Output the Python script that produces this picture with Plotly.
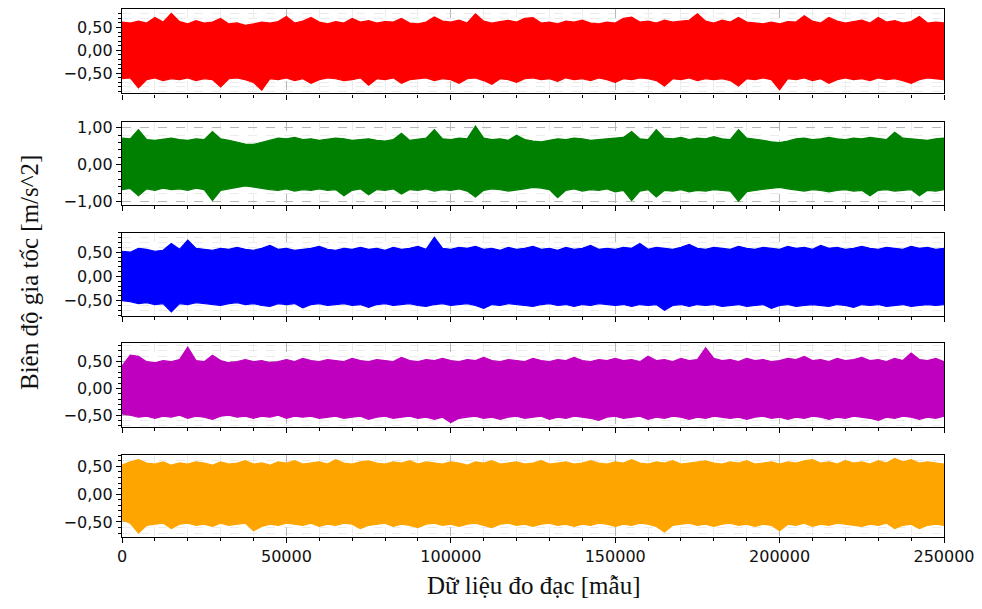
import plotly.graph_objects as go

# Sample index of each envelope reading (every 2500 samples, 0 .. 250000)
sample_index = [i * 2500 for i in range(101)]

# Upper / lower envelope of each acceleration channel [m/s^2]
red_upper = [0.62, 0.60, 0.64, 0.60, 0.72, 0.62, 0.81, 0.63, 0.58, 0.65,
             0.60, 0.62, 0.70, 0.58, 0.60, 0.55, 0.58, 0.62, 0.60, 0.63,
             0.74, 0.60, 0.64, 0.72, 0.62, 0.58, 0.63, 0.60, 0.70, 0.62,
             0.65, 0.60, 0.63, 0.62, 0.70, 0.60, 0.58, 0.62, 0.73, 0.64,
             0.62, 0.66, 0.60, 0.80, 0.64, 0.60, 0.63, 0.66, 0.62, 0.70,
             0.72, 0.60, 0.62, 0.58, 0.64, 0.62, 0.66, 0.60, 0.58, 0.62,
             0.60, 0.70, 0.73, 0.62, 0.64, 0.60, 0.66, 0.62, 0.64, 0.66,
             0.80, 0.64, 0.60, 0.66, 0.62, 0.72, 0.62, 0.60, 0.58, 0.62,
             0.58, 0.63, 0.62, 0.76, 0.64, 0.60, 0.72, 0.64, 0.60, 0.63,
             0.66, 0.60, 0.72, 0.62, 0.65, 0.60, 0.63, 0.74, 0.60, 0.62,
             0.60]
red_lower = [-0.62, -0.60, -0.82, -0.64, -0.60, -0.66, -0.62, -0.64, -0.60, -0.66,
             -0.62, -0.64, -0.80, -0.62, -0.60, -0.64, -0.70, -0.87, -0.62, -0.64,
             -0.60, -0.66, -0.62, -0.72, -0.64, -0.60, -0.62, -0.66, -0.64, -0.60,
             -0.76, -0.62, -0.64, -0.60, -0.72, -0.64, -0.62, -0.60, -0.66, -0.62,
             -0.64, -0.72, -0.62, -0.60, -0.66, -0.74, -0.62, -0.64, -0.70, -0.62,
             -0.60, -0.64, -0.62, -0.68, -0.60, -0.64, -0.62, -0.66, -0.60, -0.64,
             -0.70, -0.62, -0.64, -0.60, -0.62, -0.66, -0.78, -0.62, -0.64, -0.60,
             -0.66, -0.62, -0.64, -0.62, -0.66, -0.78, -0.62, -0.64, -0.60, -0.64,
             -0.86, -0.62, -0.64, -0.60, -0.66, -0.62, -0.72, -0.64, -0.60, -0.64,
             -0.62, -0.66, -0.60, -0.64, -0.62, -0.66, -0.72, -0.64, -0.60, -0.62,
             -0.64]

green_upper = [0.72, 0.70, 0.95, 0.68, 0.66, 0.70, 0.72, 0.68, 0.66, 0.70,
               0.68, 0.90, 0.70, 0.66, 0.62, 0.56, 0.55, 0.60, 0.66, 0.72,
               0.70, 0.74, 0.68, 0.70, 0.66, 0.68, 0.72, 0.70, 0.66, 0.68,
               0.70, 0.66, 0.64, 0.68, 0.85, 0.66, 0.70, 0.72, 0.95, 0.70,
               0.68, 0.72, 0.70, 1.05, 0.72, 0.68, 0.70, 0.66, 0.80, 0.68,
               0.64, 0.62, 0.66, 0.70, 0.68, 0.72, 0.70, 0.66, 0.68, 0.70,
               0.72, 0.74, 0.90, 0.70, 0.68, 0.95, 0.72, 0.70, 0.74, 0.68,
               0.72, 0.70, 0.76, 0.70, 0.68, 0.95, 0.72, 0.70, 0.66, 0.62,
               0.60, 0.64, 0.70, 0.72, 0.68, 0.70, 0.74, 0.70, 0.68, 0.72,
               0.70, 0.74, 0.70, 0.68, 0.88, 0.72, 0.70, 0.68, 0.66, 0.70,
               0.72]
green_lower = [-0.68, -0.65, -0.85, -0.66, -0.70, -0.64, -0.68, -0.66, -0.70, -0.64,
               -0.68, -0.98, -0.70, -0.66, -0.62, -0.58, -0.60, -0.64, -0.68, -0.70,
               -0.66, -0.72, -0.68, -0.70, -0.66, -0.70, -0.68, -0.85, -0.70, -0.66,
               -0.82, -0.68, -0.70, -0.66, -0.80, -0.68, -0.70, -0.66, -0.72, -0.68,
               -0.70, -0.66, -0.72, -0.88, -0.70, -0.66, -0.68, -0.72, -0.70, -0.66,
               -0.62, -0.64, -0.68, -0.90, -0.70, -0.66, -0.72, -0.68, -0.70, -0.66,
               -0.74, -0.70, -0.98, -0.72, -0.68, -0.88, -0.70, -0.72, -0.68, -0.74,
               -0.70, -0.72, -0.68, -0.70, -0.72, -1.00, -0.74, -0.70, -0.66, -0.64,
               -0.62, -0.66, -0.70, -0.72, -0.68, -0.70, -0.74, -0.70, -0.68, -0.72,
               -0.70, -0.85, -0.70, -0.68, -0.72, -0.70, -0.68, -0.85, -0.70, -0.72,
               -0.68]

blue_upper = [0.52, 0.50, 0.58, 0.56, 0.52, 0.54, 0.68, 0.56, 0.75, 0.58,
              0.56, 0.54, 0.58, 0.56, 0.60, 0.56, 0.54, 0.58, 0.64, 0.56,
              0.58, 0.54, 0.56, 0.58, 0.62, 0.56, 0.54, 0.58, 0.56, 0.60,
              0.56, 0.58, 0.54, 0.60, 0.56, 0.58, 0.62, 0.56, 0.81, 0.58,
              0.56, 0.60, 0.58, 0.62, 0.56, 0.58, 0.54, 0.60, 0.56, 0.58,
              0.62, 0.56, 0.58, 0.54, 0.60, 0.56, 0.58, 0.64, 0.56, 0.58,
              0.56, 0.60, 0.58, 0.68, 0.56, 0.60, 0.58, 0.56, 0.60, 0.66,
              0.58, 0.56, 0.60, 0.58, 0.56, 0.62, 0.58, 0.56, 0.60, 0.58,
              0.56, 0.62, 0.58, 0.60, 0.56, 0.64, 0.58, 0.60, 0.56, 0.58,
              0.62, 0.58, 0.56, 0.60, 0.58, 0.56, 0.62, 0.58, 0.60, 0.56,
              0.58]
blue_lower = [-0.50, -0.52, -0.56, -0.54, -0.58, -0.56, -0.73, -0.56, -0.58, -0.54,
              -0.56, -0.58, -0.60, -0.56, -0.54, -0.58, -0.56, -0.60, -0.62, -0.56,
              -0.58, -0.56, -0.65, -0.58, -0.56, -0.60, -0.58, -0.56, -0.60, -0.58,
              -0.64, -0.58, -0.56, -0.60, -0.58, -0.56, -0.60, -0.62, -0.58, -0.56,
              -0.60, -0.58, -0.56, -0.60, -0.66, -0.58, -0.60, -0.56, -0.58, -0.60,
              -0.62, -0.58, -0.56, -0.60, -0.58, -0.62, -0.58, -0.60, -0.56, -0.58,
              -0.60, -0.58, -0.62, -0.58, -0.60, -0.58, -0.70, -0.60, -0.58, -0.62,
              -0.58, -0.60, -0.58, -0.62, -0.60, -0.58, -0.62, -0.60, -0.58, -0.66,
              -0.60, -0.58, -0.62, -0.60, -0.58, -0.60, -0.62, -0.58, -0.60, -0.64,
              -0.58, -0.60, -0.58, -0.62, -0.60, -0.58, -0.62, -0.60, -0.58, -0.60,
              -0.58]

magenta_upper = [0.42, 0.62, 0.60, 0.50, 0.48, 0.52, 0.50, 0.54, 0.77, 0.52,
                 0.50, 0.62, 0.52, 0.48, 0.50, 0.54, 0.50, 0.52, 0.48, 0.50,
                 0.54, 0.50, 0.56, 0.52, 0.50, 0.54, 0.52, 0.50, 0.56, 0.52,
                 0.50, 0.54, 0.52, 0.50, 0.58, 0.52, 0.50, 0.54, 0.52, 0.56,
                 0.52, 0.50, 0.54, 0.52, 0.58, 0.52, 0.50, 0.54, 0.52, 0.50,
                 0.56, 0.52, 0.50, 0.54, 0.52, 0.58, 0.52, 0.50, 0.54, 0.52,
                 0.56, 0.52, 0.54, 0.50, 0.60, 0.52, 0.54, 0.50, 0.56, 0.52,
                 0.54, 0.76, 0.56, 0.52, 0.54, 0.50, 0.56, 0.52, 0.54, 0.50,
                 0.52, 0.56, 0.54, 0.60, 0.52, 0.54, 0.50, 0.56, 0.52, 0.54,
                 0.58, 0.52, 0.54, 0.50, 0.56, 0.52, 0.66, 0.54, 0.52, 0.56,
                 0.50]
magenta_lower = [-0.48, -0.50, -0.54, -0.52, -0.56, -0.52, -0.54, -0.50, -0.56, -0.52,
                 -0.54, -0.58, -0.52, -0.50, -0.54, -0.52, -0.56, -0.52, -0.54, -0.50,
                 -0.56, -0.52, -0.54, -0.52, -0.56, -0.54, -0.52, -0.56, -0.54, -0.52,
                 -0.58, -0.54, -0.52, -0.56, -0.54, -0.52, -0.56, -0.54, -0.58, -0.54,
                 -0.64, -0.56, -0.54, -0.52, -0.56, -0.54, -0.58, -0.54, -0.52, -0.56,
                 -0.54, -0.52, -0.58, -0.54, -0.56, -0.52, -0.54, -0.56, -0.60, -0.54,
                 -0.52, -0.56, -0.54, -0.52, -0.58, -0.54, -0.56, -0.52, -0.54, -0.58,
                 -0.54, -0.56, -0.52, -0.54, -0.56, -0.54, -0.58, -0.54, -0.52, -0.56,
                 -0.54, -0.58, -0.54, -0.56, -0.52, -0.54, -0.58, -0.54, -0.56, -0.52,
                 -0.54, -0.56, -0.60, -0.54, -0.56, -0.52, -0.54, -0.58, -0.54, -0.56,
                 -0.52]

orange_upper = [0.52, 0.58, 0.62, 0.56, 0.54, 0.58, 0.52, 0.56, 0.54, 0.58,
                0.56, 0.52, 0.58, 0.54, 0.56, 0.60, 0.54, 0.56, 0.52, 0.58,
                0.56, 0.60, 0.54, 0.56, 0.58, 0.54, 0.62, 0.56, 0.54, 0.58,
                0.60, 0.56, 0.54, 0.58, 0.56, 0.60, 0.54, 0.58, 0.56, 0.54,
                0.58, 0.56, 0.52, 0.58, 0.56, 0.60, 0.54, 0.56, 0.58, 0.54,
                0.56, 0.60, 0.54, 0.56, 0.58, 0.54, 0.56, 0.60, 0.56, 0.54,
                0.58, 0.56, 0.62, 0.56, 0.54, 0.58, 0.56, 0.60, 0.54, 0.56,
                0.58, 0.60, 0.56, 0.54, 0.58, 0.56, 0.60, 0.54, 0.56, 0.58,
                0.54, 0.58, 0.56, 0.60, 0.62, 0.56, 0.58, 0.54, 0.60, 0.56,
                0.58, 0.54, 0.60, 0.56, 0.64, 0.58, 0.62, 0.56, 0.58, 0.56,
                0.54]
orange_lower = [-0.46, -0.52, -0.70, -0.56, -0.54, -0.52, -0.62, -0.54, -0.52, -0.56,
                -0.54, -0.58, -0.52, -0.56, -0.54, -0.52, -0.66, -0.58, -0.54, -0.56,
                -0.52, -0.54, -0.56, -0.52, -0.58, -0.54, -0.56, -0.52, -0.54, -0.62,
                -0.56, -0.54, -0.52, -0.58, -0.54, -0.56, -0.60, -0.54, -0.52, -0.56,
                -0.54, -0.58, -0.54, -0.52, -0.56, -0.60, -0.54, -0.52, -0.56, -0.54,
                -0.58, -0.54, -0.52, -0.56, -0.54, -0.58, -0.54, -0.56, -0.52, -0.54,
                -0.58, -0.54, -0.56, -0.52, -0.54, -0.58, -0.68, -0.56, -0.54, -0.52,
                -0.56, -0.54, -0.58, -0.54, -0.52, -0.56, -0.54, -0.58, -0.54, -0.56,
                -0.66, -0.54, -0.56, -0.52, -0.58, -0.54, -0.56, -0.52, -0.54, -0.56,
                -0.58, -0.54, -0.56, -0.52, -0.62, -0.56, -0.54, -0.62, -0.56, -0.54,
                -0.56]

x_tick_values = [0, 50000, 100000, 150000, 200000, 250000]
y_title = "Biên độ gia tốc [m/s^2]"
x_title = "Dữ liệu đo đạc [mẫu]"

# channel: (upper, lower, colour, y-range, minor step, tick values)
channels = [
    (red_upper, red_lower, "#ff0000", [-0.94, 0.895], 0.1, [-0.5, 0.0, 0.5]),
    (green_upper, green_lower, "#008000", [-1.10, 1.155], 0.2, [-1.0, 0.0, 1.0]),
    (blue_upper, blue_lower, "#0000ff", [-0.81, 0.90], 0.1, [-0.5, 0.0, 0.5]),
    (magenta_upper, magenta_lower, "#bf00bf", [-0.72, 0.84], 0.1, [-0.5, 0.0, 0.5]),
    (orange_upper, orange_lower, "#ffa500", [-0.77, 0.71], 0.1, [-0.5, 0.0, 0.5]),
]

W, H = 982, 609
M_L, M_R, M_T, M_B = 122, 38, 5, 72
plot_h = H - M_T - M_B
panel_px = [(5.5, 90), (119, 202.5), (230.5, 314), (342, 426), (454, 537)]


def frac(py):
    return 1 - (py - M_T) / plot_h


fig = go.Figure()
layout = dict(
    width=W, height=H,
    margin=dict(l=M_L, r=M_R, t=M_T, b=M_B),
    paper_bgcolor="white", plot_bgcolor="white",
    showlegend=False,
    separators=", ",
    font=dict(family="DejaVu Sans", size=16, color="#111111"),
)

for i, (up, lo, col, yr, minor, yticks) in enumerate(channels):
    n = i + 1
    xa = "x" if n == 1 else f"x{n}"
    ya = "y" if n == 1 else f"y{n}"
    # closed outline: upper envelope left-to-right, lower envelope back
    xs = sample_index + sample_index[::-1]
    ys = up + lo[::-1]
    fig.add_trace(go.Scatter(
        x=xs, y=ys, xaxis=xa, yaxis=ya,
        mode="lines", line=dict(color=col, width=1.2),
        fill="toself", fillcolor=col, hoverinfo="skip",
    ))
    top_px, bot_px = panel_px[i]
    layout[f"xaxis{'' if n == 1 else n}"] = dict(
        domain=[0, 1], anchor=ya, range=[0, 250000],
        tickvals=x_tick_values, tickformat="d",
        showticklabels=(n == 5),
        ticks="outside", ticklen=5, tickwidth=1.2, tickcolor="black",
        showline=True, linecolor="black", linewidth=1.3, mirror=True,
        showgrid=True, gridcolor="#b8b8b8", griddash="dash", gridwidth=0.8,
        zeroline=False,
        minor=dict(dtick=10000, tick0=0, ticks="outside", ticklen=3,
                   tickcolor="black", tickwidth=1,
                   showgrid=True, gridcolor="#ececec", gridwidth=0.8),
        **({} if n == 1 else {"matches": "x"}),
    )
    layout[f"yaxis{'' if n == 1 else n}"] = dict(
        domain=[frac(bot_px), frac(top_px)], anchor=xa, range=yr,
        tickvals=yticks, tickformat=".2f",
        ticks="outside", ticklen=5, tickwidth=1.2, tickcolor="black",
        showline=True, linecolor="black", linewidth=1.3, mirror=True,
        showgrid=True, gridcolor="#b8b8b8", griddash="dash", gridwidth=0.8,
        zeroline=False,
        minor=dict(dtick=minor, tick0=0, ticks="outside", ticklen=3,
                   tickcolor="black", tickwidth=1,
                   showgrid=True, gridcolor="#ececec", gridwidth=0.8),
    )

layout["annotations"] = [
    dict(text=y_title, xref="paper", yref="paper",
         x=(29 - M_L) / (W - M_L - M_R), y=frac(271),
         xanchor="center", yanchor="middle", textangle=-90, showarrow=False,
         font=dict(family="Liberation Serif", size=25, color="#111111")),
    dict(text=x_title, xref="paper", yref="paper",
         x=0.5, y=frac(586), xanchor="center", yanchor="middle", showarrow=False,
         font=dict(family="Liberation Serif", size=25, color="#111111")),
]

fig.update_layout(**layout)
fig.write_html("out.html")
